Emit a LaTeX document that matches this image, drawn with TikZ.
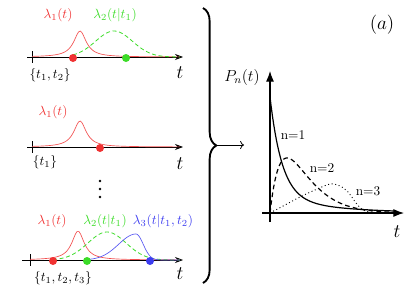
\documentclass[tikz,border=0pt]{standalone}
\usepackage{amsmath}
\usepackage{tikz}
\usetikzlibrary{arrows.meta,decorations.pathreplacing,positioning}
\definecolor{lamred}{RGB}{240,50,50}
\definecolor{lamgreen}{RGB}{60,220,40}
\definecolor{lamblue}{RGB}{60,60,240}
\tikzstyle{taxis}=[draw=black, line width=0.6pt, -{Stealth[length=6pt,width=4.5pt]}]
\tikzstyle{pnaxis}=[draw=black, line width=0.8pt, -{Latex[length=8pt,width=6pt]}]
\tikzstyle{tick}=[draw=black, line width=0.6pt]
\tikzstyle{ev}=[circle, inner sep=0pt, minimum size=6pt]
\tikzstyle{lred}=[draw=lamred!85, line width=0.5pt]
\tikzstyle{lgreen}=[draw=lamgreen, line width=0.6pt, dash pattern=on 3pt off 2pt]
\tikzstyle{lblue}=[draw=lamblue!85, line width=0.5pt]

\begin{document}
\begin{tikzpicture}[x=0.75pt, y=-0.75pt]
        \useasboundingbox (0,0) rectangle (409,289);

        % first row: two events
        \coordinate (a1) at (27,57);
        \coordinate (b1) at (183,57);
        \draw[taxis] (a1) -- (b1);
        \draw[tick] (32,51) -- (32,63);
        \draw[lred] plot[domain=32:180, samples=90] (\x, {57 - 26/(1+((\x-80)/7.5)^2)});
        \draw[lgreen] plot[domain=73:180, samples=70] (\x, {57 - 26*exp(-((\x-114)/26)^2)});
        \node[ev, fill=lamred] (r1) at (73,58) {};
        \node[ev, fill=lamgreen] (g1) at (126,58) {};
        \node[text=lamred] (l11) at (58,15) {$\lambda_1(t)$};
        \node[text=lamgreen] (l12) at (115,15) {$\lambda_2(t|t_1)$};
        \node (s1) at (50,75) {$\{t_1,t_2\}$};
        \node[font=\Large] (t1) at (180,73) {$t$};

        % second row: one event
        \coordinate (a2) at (27,147);
        \coordinate (b2) at (183,147);
        \draw[taxis] (a2) -- (b2);
        \draw[tick] (32,141) -- (32,153);
        \draw[lred] plot[domain=32:180, samples=90] (\x, {147 - 26/(1+((\x-80)/7.5)^2)});
        \node[ev, fill=lamred] (r2) at (100,148) {};
        \node[text=lamred] (l21) at (53,112) {$\lambda_1(t)$};
        \node (s2) at (45,162) {$\{t_1\}$};
        \node[font=\Large] (t2) at (180,164) {$t$};

        \foreach \yy in {181,189,197}
            \fill (100,\yy) circle (1.4);

        % third row: three events
        \coordinate (a3) at (22,260);
        \coordinate (b3) at (183,260);
        \draw[taxis] (a3) -- (b3);
        \draw[tick] (30,254) -- (30,266);
        \draw[lred] plot[domain=30:180, samples=90] (\x, {260 - 29/(1+((\x-78)/7.5)^2)});
        \draw[lgreen] plot[domain=53:180, samples=70] (\x, {260 - 28*exp(-((\x-107)/27)^2)});
        \draw[lblue] plot[domain=87:136, samples=40] (\x, {260 - 26*exp(-((\x-136)/24.5)^2)})
            -- plot[domain=136:180, samples=40] (\x, {260 - 26*exp(-((\x-136)/10.2)^2)});
        \node[ev, fill=lamred] (r3) at (53,261) {};
        \node[ev, fill=lamgreen] (g3) at (87,261) {};
        \node[ev, fill=lamblue] (b3e) at (150,261) {};
        \node[text=lamred] (l31) at (52,221) {$\lambda_1(t)$};
        \node[text=lamgreen] (l32) at (105,221) {$\lambda_2(t|t_1)$};
        \node[text=lamblue] (l33) at (163,221) {$\lambda_3(t|t_1,t_2)$};
        \node (s3) at (63,278) {$\{t_1,t_2,t_3\}$};
        \node[font=\Large] (t3) at (180,274) {$t$};

        % brace and arrow
        \coordinate (btop) at (203,8);
        \coordinate (bbot) at (203,283);
        \draw[line width=1.4pt, decorate, decoration={brace, amplitude=10pt}] (btop) -- (bbot);
        \coordinate (btip) at (217,145);
        \coordinate (bend) at (244,145);
        \draw[->, line width=0.6pt] (btip) -- (bend);

        % survival curves
        \coordinate (o) at (270,213);
        \coordinate (ylo) at (270,222);
        \coordinate (yhi) at (270,71);
        \coordinate (xlo) at (262,213);
        \coordinate (xhi) at (404,213);
        \draw[pnaxis] (ylo) -- (yhi);
        \draw[pnaxis] (xlo) -- (xhi);
        \draw[line width=0.9pt] plot[domain=0:125, samples=100]
            (\x+270, {213 - (100*exp(-\x/12) + 16*exp(-\x/60))});
        \draw[line width=0.9pt, dash pattern=on 3.5pt off 2.5pt] plot[domain=0:120, samples=100]
            (\x+270, {213 - 8.8*\x*exp(-\x/17)});
        \draw[line width=0.7pt, dotted] plot[smooth] coordinates {(270,213) (285,205) (300,197)
            (315,190) (330,184) (340,186) (348,192) (356,203) (363,210) (375,212.5) (395,213)};
        \node (n1) at (293,135) {n=1};
        \node (n2) at (322,168) {n=2};
        \node (n3) at (368,191) {n=3};
        \node[font=\large] (pn) at (242,77) {$P_n(t)$};
        \node[font=\Large] (tt) at (397,232) {$t$};
        \node[font=\Large] (lab) at (382,25) {$(a)$};

    \end{tikzpicture}
\end{document}
